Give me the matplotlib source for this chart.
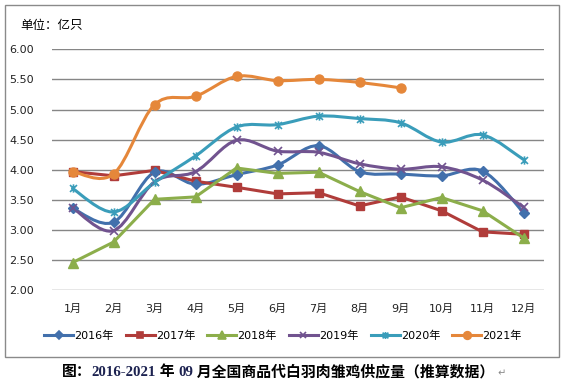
import numpy as np
import matplotlib
matplotlib.use('Agg')
import matplotlib.pyplot as plt
from matplotlib.path import Path
from matplotlib.patches import PathPatch, Rectangle
from matplotlib.lines import Line2D
from matplotlib.offsetbox import TextArea, HPacker, AnchoredOffsetbox

plt.rcParams['font.family'] = ['DejaVu Sans', 'Noto Sans CJK SC']

meses = ['1月', '2月', '3月', '4月', '5月', '6月', '7月', '8月', '9月', '10月', '11月', '12月']
anos = ['2016年', '2017年', '2018年', '2019年', '2020年', '2021年']

v2016 = [3.36, 3.13, 3.96, 3.76, 3.92, 4.08, 4.40, 3.97, 3.93, 3.90, 3.98, 3.29]
v2017 = [3.97, 3.90, 3.99, 3.81, 3.71, 3.60, 3.62, 3.40, 3.55, 3.32, 2.97, 2.93]
v2018 = [2.46, 2.80, 3.51, 3.55, 4.03, 3.94, 3.96, 3.64, 3.37, 3.54, 3.32, 2.87]
v2019 = [3.37, 2.99, 3.80, 3.97, 4.49, 4.31, 4.29, 4.10, 4.01, 4.05, 3.83, 3.38]
v2020 = [3.69, 3.30, 3.79, 4.23, 4.71, 4.75, 4.89, 4.85, 4.78, 4.46, 4.58, 4.17]
v2021 = [3.97, 3.93, 5.08, 5.22, 5.55, 5.48, 5.50, 5.45, 5.36]

cores = ['#4270AC', '#B03C3A', '#8CAE4B', '#71538F', '#3A9DBA', '#E5873A']

# marcador asterisco do Excel (x + barra vertical)
asterisco = Path([(-1, -1), (1, 1), (-1, 1), (1, -1), (0, -1.2), (0, 1.2)],
                 [Path.MOVETO, Path.LINETO, Path.MOVETO, Path.LINETO, Path.MOVETO, Path.LINETO])

series = [
    (v2016, 'D', 5, True),
    (v2017, 's', 6, False),
    (v2018, '^', 7, False),
    (v2019, 'x', 6, True),
    (v2020, asterisco, 6, True),
    (v2021, 'o', 6.5, True),
]


def curva_suave(x, y):
    # bezier no estilo "linha suavizada" do Excel
    pts = np.column_stack([x, y])
    verts = [pts[0]]
    codes = [Path.MOVETO]
    n = len(pts)
    for i in range(n - 1):
        p0 = pts[i - 1] if i > 0 else pts[i]
        p1 = pts[i]
        p2 = pts[i + 1]
        p3 = pts[i + 2] if i + 2 < n else pts[i + 1]
        c1 = p1 + (p2 - p0) / 6
        c2 = p2 - (p3 - p1) / 6
        verts += [c1, c2, p2]
        codes += [Path.CURVE4] * 3
    return Path(verts, codes)


fig = plt.figure(figsize=(5.63, 3.85), dpi=100)
fig.patches.append(Rectangle((5 / 563, 1 - 357 / 385), 554 / 563, 352 / 385,
                             transform=fig.transFigure, fill=False,
                             edgecolor='#8a8a8a', linewidth=1))
ax = fig.add_axes([52 / 563, 1 - 290.3 / 385, 492 / 563, 241 / 385])

handles = []
for (vals, mk, ms, suave), cor, nome in zip(series, cores, anos):
    x = np.arange(1, len(vals) + 1)
    if suave:
        ax.add_patch(PathPatch(curva_suave(x, vals), facecolor='none', edgecolor=cor,
                               linewidth=2.2, capstyle='round', joinstyle='round', zorder=3))
        ax.plot(x, vals, linestyle='none', marker=mk, markersize=ms, color=cor,
                markeredgewidth=1.2 if mk in ('x',) or mk is asterisco else 1, zorder=4)
    else:
        ax.plot(x, vals, marker=mk, markersize=ms, color=cor, linewidth=2.2, zorder=3)
    handles.append(Line2D([], [], color=cor, marker=mk, markersize=ms - 1, linewidth=2.2,
                          markeredgewidth=1.2))

ax.set_xlim(0.5, 12.5)
ax.set_ylim(2.0, 6.0)
ax.set_yticks([2.0, 2.5, 3.0, 3.5, 4.0, 4.5, 5.0, 5.5, 6.0])
ax.set_yticklabels(['%.2f' % t for t in ax.get_yticks()])
ax.set_xticks(range(1, 13))
ax.set_xticklabels(meses)
ax.tick_params(length=0, labelsize=8, colors='#222222')
ax.tick_params(axis='y', pad=13)
ax.tick_params(axis='x', pad=10)
ax.grid(axis='y', color='#868686', linewidth=1)
ax.set_axisbelow(True)
for s in ax.spines.values():
    s.set_visible(False)
ax.patch.set_alpha(0)

fig.text(20 / 563, 1 - 26 / 385, '单位：亿只', fontsize=9, va='center', ha='left',
         family=['Noto Sans CJK SC'])

fig.legend(handles=handles, labels=anos, loc='center', ncol=6,
           bbox_to_anchor=(283 / 563, 1 - 336 / 385), frameon=False, fontsize=8,
           handlelength=2.6, handletextpad=0.1, columnspacing=1.1, borderpad=0)

# legenda de baixo com partes coloridas
fonte = ['Liberation Serif', 'Noto Sans CJK SC']
partes = [('图：', 'black'), ('2016-2021', '#1C2250'), (' 年 ', 'black'),
          ('09', '#1C2250'), (' 月全国商品代白羽肉雏鸡供应量（推算数据）', 'black')]
caixas = [TextArea(t, textprops=dict(color=c, fontsize=10.7, fontweight='bold', family=fonte))
          for t, c in partes]
caixas.append(TextArea(' ↵', textprops=dict(color='#888888', fontsize=7, family=['DejaVu Sans'])))
linha = HPacker(children=caixas, align='baseline', pad=0, sep=0)
caixa = AnchoredOffsetbox(loc='center left', child=linha, pad=0, frameon=False,
                          bbox_to_anchor=(62 / 563, 1 - 372 / 385),
                          bbox_transform=fig.transFigure, borderpad=0)
fig.add_artist(caixa)

fig.savefig('out.png', dpi=100)
